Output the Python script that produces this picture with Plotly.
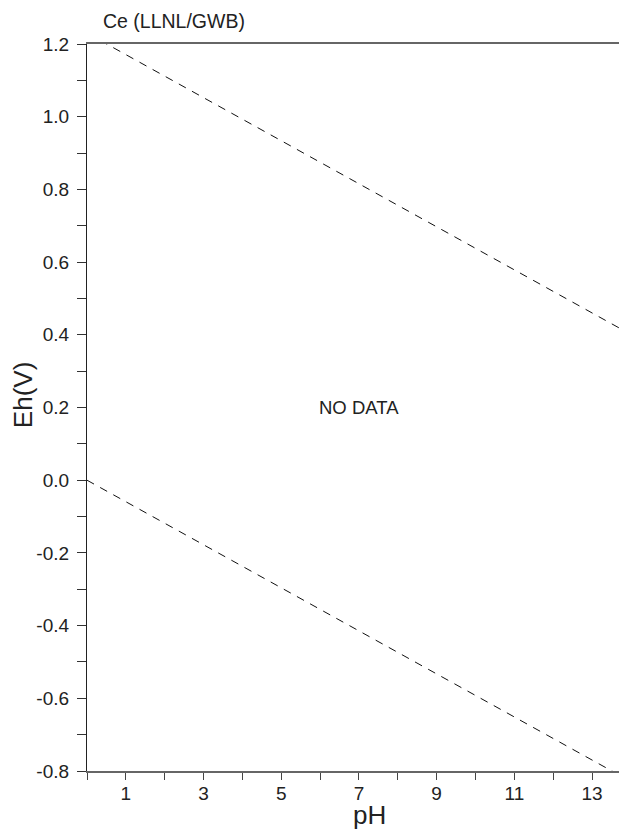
import plotly.graph_objects as go

# data
ph_ends = [0, 14]
eh_upper = [1.23, 0.401]   # O2/H2O boundary
eh_lower = [0.0, -0.829]   # H2O/H2 boundary
x_tick_vals = list(range(0, 14))
x_tick_text = ["" if v % 2 == 0 else str(v) for v in x_tick_vals]
y_tick_vals = [round(-0.8 + 0.1 * i, 1) for i in range(21)]
y_tick_text = [(f"{v:.1f}" if (round(v * 10) % 2 == 0) else "") for v in y_tick_vals]
y_tick_text = [t.replace("-0.0", "0.0") for t in y_tick_text]

font_fam = "Liberation Sans, Arial, sans-serif"

# page body has an 8px default margin; compensate
W, H = 619, 823
ML, MT, MB = 79, 36, 60
PW = W - ML

fig = go.Figure()
for ys in (eh_upper, eh_lower):
    fig.add_trace(go.Scatter(x=ph_ends, y=ys, mode="lines",
                             line=dict(color="#111", width=1, dash="8px,7px"),
                             showlegend=False, hoverinfo="skip"))

fig.add_annotation(x=7.0, y=0.2, text="NO DATA", showarrow=False,
                   font=dict(size=18.5, color="#222", family=font_fam))
fig.add_annotation(x=(174 - 87) / PW, xref="paper", xanchor="center",
                   y=1, yref="paper", yshift=23, yanchor="middle",
                   text="Ce (LLNL/GWB)", showarrow=False,
                   font=dict(size=19.5, color="#222", family=font_fam))
fig.add_annotation(x=(369 - 87) / PW, xref="paper", xanchor="center",
                   y=0, yref="paper", yshift=-44, yanchor="middle",
                   text="pH", showarrow=False,
                   font=dict(size=26, color="#222", family=font_fam))
fig.add_annotation(x=0, xref="paper", xshift=-64, xanchor="center",
                   y=0.517, yref="paper", yanchor="middle",
                   text="Eh(V)", showarrow=False, textangle=-90,
                   font=dict(size=26, color="#222", family=font_fam))

fig.update_layout(
    width=W, height=H,
    margin=dict(l=ML, r=0, t=MT, b=MB),
    plot_bgcolor="white", paper_bgcolor="white",
    font=dict(family=font_fam, color="#222", size=19),
    xaxis=dict(range=[0, 13.9], tickvals=x_tick_vals, ticktext=x_tick_text,
               ticks="outside", ticklen=7, tickcolor="#444", tickwidth=1,
               showline=True, linecolor="#666", linewidth=2, mirror=True,
               showgrid=False, zeroline=False, automargin=False,
               ticklabelstandoff=-3,
               tickfont=dict(size=19)),
    yaxis=dict(range=[-0.8, 1.2], tickvals=y_tick_vals, ticktext=y_tick_text,
               ticks="outside", ticklen=9, tickcolor="#333", tickwidth=1,
               showline=True, linecolor="#222", linewidth=1.2,
               showgrid=False, zeroline=False, automargin=False,
               ticklabelstandoff=4,
               tickfont=dict(size=19)),
)

fig.write_html("out.html")
